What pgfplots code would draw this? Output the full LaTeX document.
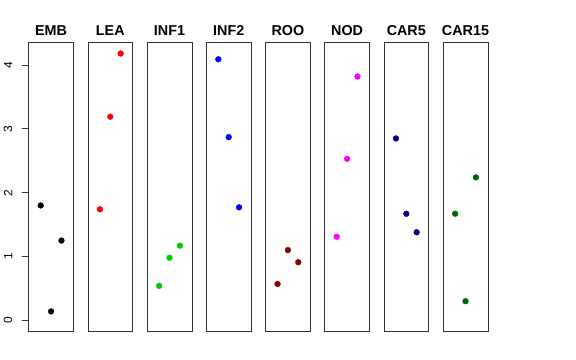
\documentclass[border=0pt]{standalone}
\usepackage{pgfplots}
\pgfplotsset{compat=1.18}
\usepackage{fontspec}
\setmainfont{Liberation Sans}
\definecolor{rgreen}{HTML}{00CD00}
\definecolor{rdarkred}{HTML}{8B0000}
\definecolor{rnavy}{HTML}{000080}
\definecolor{rdarkgreen}{HTML}{006400}
\definecolor{rmagenta}{HTML}{FF00FF}
\definecolor{rred}{HTML}{FF0000}
\definecolor{rblue}{HTML}{0000FF}
\begin{document}
\begin{tikzpicture}
\useasboundingbox (0bp,0bp) rectangle (576bp,360bp);
\pgfplotsset{
  every axis title/.style={at={(0.5,1)}, anchor=base, yshift=6.7bp, inner sep=0pt,
    font=\fontsize{14.4}{16}\selectfont\bfseries},
  panel/.style={at={(#1bp,29bp)}, anchor=south west, scale only axis,
    width=44.8bp, height=288.3bp,
    xmin=-0.16, xmax=4.16, ymin=-0.167, ymax=4.35,
    xtick=\empty, ytick=\empty,
    axis line style={black!80, line width=0.75bp},
    clip=false},
  pts/.style={only marks, mark=*, mark size=2.9bp, color=#1, mark options={draw=#1, fill=#1}}
}
\begin{axis}[panel=28.7, title={EMB},
  ytick={0,1,2,3,4}, ytick pos=left, tick align=outside, major tick length=7.2bp,
  tick style={black!80, line width=0.75bp},
  /pgf/number format/assume math mode=true,
  yticklabel shift=9bp,
  yticklabel style={rotate=90, anchor=south, inner sep=0pt, font=\fontsize{12}{13}\selectfont}]
\addplot[pts=black] coordinates {(1,1.80) (2,0.14) (3,1.25)};
\end{axis}
\begin{axis}[panel=87.9, title={LEA}]
\addplot[pts=rred] coordinates {(1,1.74) (2,3.19) (3,4.18)};
\end{axis}
\begin{axis}[panel=147.1, title={INF1}]
\addplot[pts=rgreen] coordinates {(1,0.54) (2,0.98) (3,1.17)};
\end{axis}
\begin{axis}[panel=206.3, title={INF2}]
\addplot[pts=rblue] coordinates {(1,4.09) (2,2.87) (3,1.77)};
\end{axis}
\begin{axis}[panel=265.5, title={ROO}]
\addplot[pts=rdarkred] coordinates {(1,0.57) (2,1.10) (3,0.91)};
\end{axis}
\begin{axis}[panel=324.7, title={NOD}]
\addplot[pts=rmagenta] coordinates {(1,1.31) (2,2.53) (3,3.82)};
\end{axis}
\begin{axis}[panel=383.9, title={CAR5}]
\addplot[pts=rnavy] coordinates {(1,2.85) (2,1.67) (3,1.38)};
\end{axis}
\begin{axis}[panel=443.1, title={CAR15}]
\addplot[pts=rdarkgreen] coordinates {(1,1.67) (2,0.30) (3,2.24)};
\end{axis}
\end{tikzpicture}
\end{document}
